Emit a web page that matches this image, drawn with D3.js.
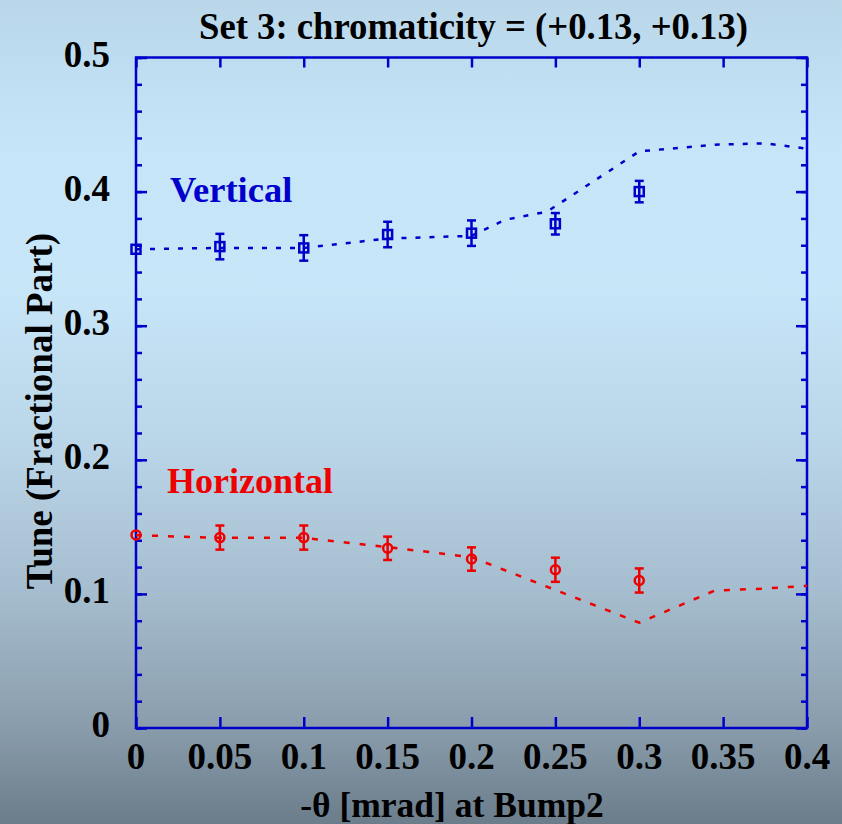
<!DOCTYPE html>
<html>
<head>
<meta charset="utf-8">
<script src="https://cdn.jsdelivr.net/npm/d3@7"></script>
<style>
  html, body { margin: 0; padding: 0; overflow: hidden; }
  text { font-family: "Liberation Serif", "Times New Roman", serif; font-weight: bold; }
</style>
</head>
<body>
<svg id="chart"></svg>
<script>
// measured points
const angles = [0, 0.05, 0.1, 0.15, 0.2, 0.25, 0.3];
const vertTune = [0.357, 0.359, 0.358, 0.368, 0.369, 0.376, 0.400];
const vertErr = [0, 0.0095, 0.0095, 0.0095, 0.0095, 0.008, 0.008];
const horTune = [0.144, 0.142, 0.142, 0.134, 0.126, 0.118, 0.110];
const horErr = [0, 0.009, 0.009, 0.0087, 0.0087, 0.009, 0.009];

// model curves (dashed)
const vertModelX = [0, 0.05, 0.1, 0.15, 0.2, 0.22, 0.245, 0.3, 0.345, 0.375, 0.4];
const vertModelY = [0.357, 0.358, 0.358, 0.365, 0.367, 0.379, 0.385, 0.430, 0.435, 0.436, 0.432];
const horModelX = [0, 0.05, 0.1, 0.15, 0.2, 0.3, 0.345, 0.375, 0.4];
const horModelY = [0.1438, 0.1418, 0.1418, 0.1349, 0.1274, 0.0785, 0.1025, 0.104, 0.106];

const xTicks = [0, 0.05, 0.1, 0.15, 0.2, 0.25, 0.3, 0.35, 0.4];
const xTickLabels = ["0", "0.05", "0.1", "0.15", "0.2", "0.25", "0.3", "0.35", "0.4"];
const yTicks = [0, 0.1, 0.2, 0.3, 0.4, 0.5];
const yTickLabels = ["0", "0.1", "0.2", "0.3", "0.4", "0.5"];
const yMinor = d3.range(0, 0.501, 0.02);

const titleText = "Set 3: chromaticity = (+0.13, +0.13)";
const xLabel = "-\u03b8 [mrad] at Bump2";
const yLabel = "Tune (Fractional Part)";

const width = 842;
const height = 824;
const margin = { left: 136, right: 35, top: 57.5, bottom: 96 };
const blue = "#0000cc";
const red = "#ee0000";

const svg = d3.select("#chart").attr("width", width).attr("height", height);

// background gradient
const defs = svg.append("defs");
const bg = defs.append("linearGradient")
  .attr("id", "bg").attr("x1", 0).attr("y1", 0).attr("x2", 0).attr("y2", 1);
[[0, "#bad7ea"], [0.18, "#c6e5f8"], [0.35, "#c7e6f8"], [0.55, "#b9d4e7"],
 [0.72, "#a5bdce"], [0.88, "#8a9dac"], [1, "#6b7d8b"]].forEach(s => {
  bg.append("stop").attr("offset", s[0]).attr("stop-color", s[1]);
});
svg.append("rect").attr("width", width).attr("height", height).attr("fill", "url(#bg)");

const x = d3.scaleLinear().domain([0, 0.4]).range([margin.left, width - margin.right]);
const y = d3.scaleLinear().domain([0, 0.5]).range([height - margin.bottom, margin.top]);

const x0 = x.range()[0], x1 = x.range()[1];
const y0 = y.range()[0], y1 = y.range()[1];

// axes: ticks pointing inward on all four sides
function styleAxis(g) {
  g.selectAll("path").remove();
  g.selectAll("line").attr("stroke", blue).attr("stroke-width", 2.5);
  g.selectAll("text").remove();
}
svg.append("g").attr("transform", `translate(0,${y0})`)
  .call(d3.axisBottom(x).tickValues(xTicks).tickSize(-11)).call(styleAxis);
svg.append("g").attr("transform", `translate(0,${y1})`)
  .call(d3.axisTop(x).tickValues(xTicks).tickSize(-10)).call(styleAxis);
svg.append("g").attr("transform", `translate(${x0},0)`)
  .call(d3.axisLeft(y).tickValues(yMinor).tickSize(-6)).call(styleAxis);
svg.append("g").attr("transform", `translate(${x0},0)`)
  .call(d3.axisLeft(y).tickValues(yTicks).tickSize(-11)).call(styleAxis);
svg.append("g").attr("transform", `translate(${x1},0)`)
  .call(d3.axisRight(y).tickValues(yMinor).tickSize(-6)).call(styleAxis);
svg.append("g").attr("transform", `translate(${x1},0)`)
  .call(d3.axisRight(y).tickValues(yTicks).tickSize(-11)).call(styleAxis);

svg.append("rect")
  .attr("x", x0).attr("y", y1).attr("width", x1 - x0).attr("height", y0 - y1)
  .attr("fill", "none").attr("stroke", blue).attr("stroke-width", 2.5);

// tick labels
svg.append("g").selectAll("text").data(xTicks).join("text")
  .attr("x", d => x(d)).attr("y", y0 + 41)
  .attr("text-anchor", "middle").attr("font-size", 37).attr("fill", "#000")
  .text((d, i) => xTickLabels[i]);
svg.append("g").selectAll("text").data(yTicks).join("text")
  .attr("x", x0 - 26).attr("y", d => y(d) + 9)
  .attr("text-anchor", "end").attr("font-size", 37).attr("fill", "#000")
  .text((d, i) => yTickLabels[i]);

// titles
svg.append("text").attr("x", (x0 + x1) / 2 + 2).attr("y", 39)
  .attr("text-anchor", "middle").attr("font-size", 38).attr("fill", "#000")
  .attr("textLength", 549).attr("lengthAdjust", "spacingAndGlyphs")
  .text(titleText);
svg.append("text").attr("x", 452).attr("y", 817)
  .attr("text-anchor", "middle").attr("font-size", 35.5).attr("fill", "#000")
  .text(xLabel);
svg.append("text").attr("transform", "translate(52,411) rotate(-90)")
  .attr("text-anchor", "middle").attr("font-size", 37).attr("fill", "#000")
  .text(yLabel);

// model lines
const line = d3.line().x(d => x(d[0])).y(d => y(d[1]));
svg.append("path").datum(d3.zip(vertModelX, vertModelY))
  .attr("d", line).attr("fill", "none").attr("stroke", blue)
  .attr("stroke-width", 2.5).attr("stroke-dasharray", "5,9");
svg.append("path").datum(d3.zip(horModelX, horModelY))
  .attr("d", line).attr("fill", "none").attr("stroke", red)
  .attr("stroke-width", 2.5).attr("stroke-dasharray", "6,10");

// error bars
function errorBars(vals, errs, color) {
  const g = svg.append("g").attr("stroke", color).attr("stroke-width", 2.5);
  const pts = angles.map((a, i) => ({ a, v: vals[i], e: errs[i] })).filter(d => d.e > 0);
  g.selectAll("line.bar").data(pts).join("line").attr("class", "bar")
    .attr("x1", d => x(d.a)).attr("x2", d => x(d.a))
    .attr("y1", d => y(d.v - d.e)).attr("y2", d => y(d.v + d.e));
  g.selectAll("line.capLo").data(pts).join("line").attr("class", "capLo")
    .attr("x1", d => x(d.a) - 4.5).attr("x2", d => x(d.a) + 4.5)
    .attr("y1", d => y(d.v - d.e)).attr("y2", d => y(d.v - d.e));
  g.selectAll("line.capHi").data(pts).join("line").attr("class", "capHi")
    .attr("x1", d => x(d.a) - 4.5).attr("x2", d => x(d.a) + 4.5)
    .attr("y1", d => y(d.v + d.e)).attr("y2", d => y(d.v + d.e));
}
errorBars(vertTune, vertErr, blue);
errorBars(horTune, horErr, red);

// markers
svg.append("g").selectAll("rect").data(angles).join("rect")
  .attr("x", d => x(d) - 4.5).attr("y", (d, i) => y(vertTune[i]) - 4.5)
  .attr("width", 9).attr("height", 9)
  .attr("fill", "none").attr("stroke", blue).attr("stroke-width", 2.5);
svg.append("g").selectAll("circle").data(angles).join("circle")
  .attr("cx", d => x(d)).attr("cy", (d, i) => y(horTune[i]))
  .attr("r", 4.5)
  .attr("fill", "none").attr("stroke", red).attr("stroke-width", 2.5);

// series labels
svg.append("text").attr("x", 170).attr("y", 202)
  .attr("font-size", 36.5).attr("fill", blue).text("Vertical");
svg.append("text").attr("x", 167).attr("y", 493)
  .attr("font-size", 36).attr("fill", red).text("Horizontal");
</script>
</body>
</html>
